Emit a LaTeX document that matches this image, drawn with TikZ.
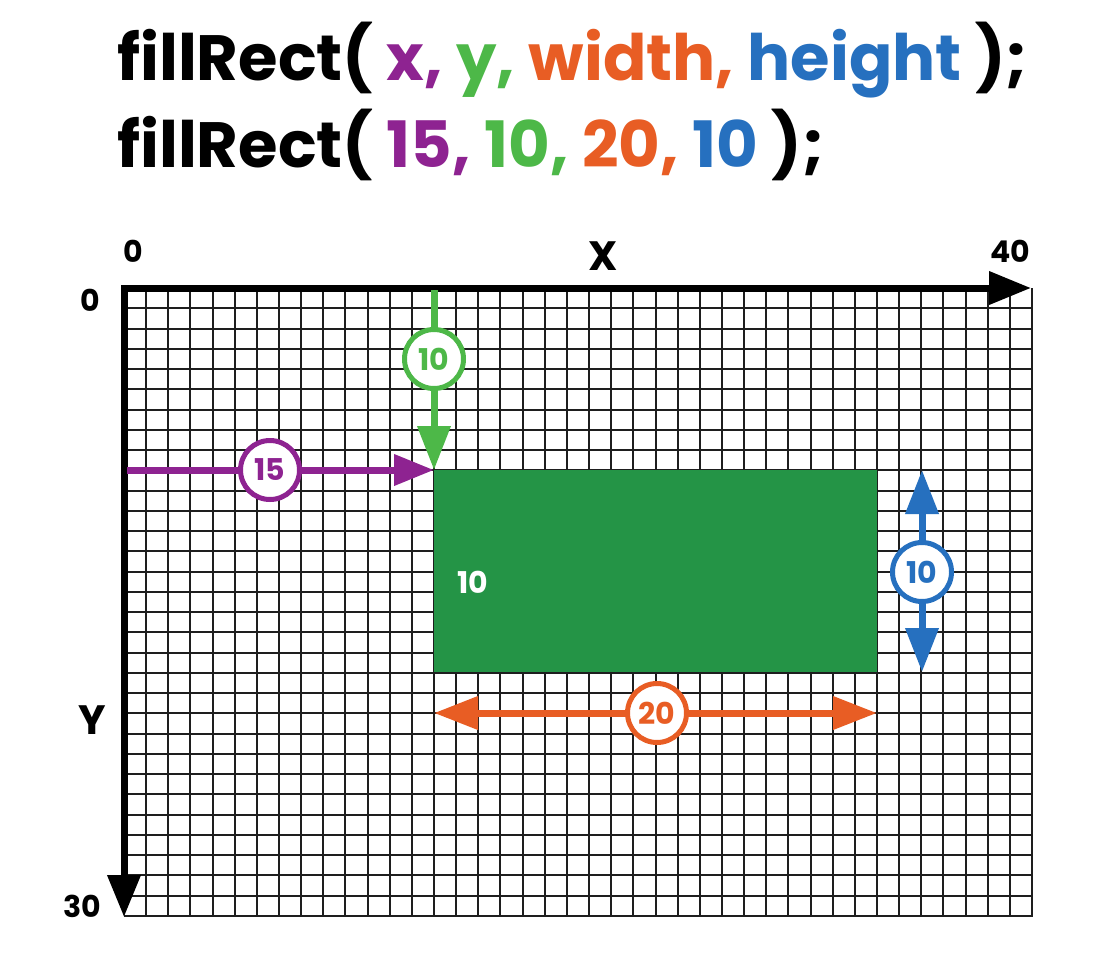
\documentclass[tikz,border=0pt]{standalone}
\usepackage{fontspec}
\setmainfont{Poppins}
\usetikzlibrary{arrows.meta}
\definecolor{cpurple}{HTML}{8E2391}
\definecolor{cgreen}{HTML}{4DB848}
\definecolor{corange}{HTML}{E85D24}
\definecolor{cblue}{HTML}{2670BF}
\definecolor{crect}{HTML}{249446}
\definecolor{cgrid}{HTML}{1E1E1E}
\tikzset{
  axtip/.tip={Triangle[length=42pt,width=32pt]},
  dimtip/.tip={Triangle[length=44pt,width=32pt]},
  ptip/.tip={Triangle[length=40pt,width=30pt]},
  gridline/.style={cgrid, line width=2pt},
  axisline/.style={black, line width=7pt, line join=miter},
  dimline/.style={line width=7pt},
  badge/.style={circle, draw=#1, fill=white, line width=5pt, minimum size=59pt, inner sep=0pt,
    text=#1, font=\bfseries\fontsize{30}{31}\selectfont},
  axlabel/.style={font=\bfseries\fontsize{30}{32}\selectfont, inner sep=0pt},
  axname/.style={font=\bfseries\fontsize{41}{44}\selectfont, inner sep=0pt},
  title/.style={font=\bfseries\fontsize{64}{70}\selectfont, inner sep=0pt, anchor=base west}
}
\begin{document}
\begin{tikzpicture}[x=1pt,y=-1pt]
\useasboundingbox[fill=white] (0,0) rectangle (1107,977);
% title
\node[title] (t1) at (117,80) {fillRect( \textcolor{cpurple}{x,} \textcolor{cgreen}{y,} \textcolor{corange}{width,} \textcolor{cblue}{height} );};
\node[title] (t2) at (117,167) {fillRect( \textcolor{cpurple}{15,} \textcolor{cgreen}{10,} \textcolor{corange}{20,} \textcolor{cblue}{10} );};
% grid
\foreach \i in {1,...,41} {
  \pgfmathsetmacro{\xx}{round(124+\i*22.146)}
  \draw[gridline] (\xx,288) -- (\xx,917);
}
\foreach \j in {1,...,31} {
  \pgfmathsetmacro{\yy}{round(288+\j*20.258)}
  \draw[gridline] (124,\yy) -- (1033,\yy);
}
% axes
\coordinate (O) at (124,288);
\coordinate (xend) at (1031,288);
\coordinate (yend) at (124,917);
\draw[axisline, {axtip}-{axtip}] (xend) -- (O) -- (yend);
\node[axlabel] (l0x) at (133,251) {0};
\node[axname] (lX) at (603,256) {X};
\node[axlabel] (l40) at (1010,251) {40};
\node[axlabel] (l0y) at (90,300) {0};
\node[axname] (lY) at (92,720) {Y};
\node[axlabel] (l30) at (82,906) {30};
% rectangle
\node[fill=crect, minimum width=443pt, minimum height=202pt, inner sep=0pt, anchor=north west] (rect) at (434,470) {};
\node[font=\bfseries\fontsize{30}{31}\selectfont, text=white, inner sep=0pt] (rlab) at (473,582) {10};
% green (y) arrow
\coordinate (gtop) at (434,290);
\node[badge=cgreen] (gc) at (434,359) {10};
\draw[cgreen, dimline] (gtop) -- (gc);
\draw[cgreen, dimline, -{dimtip}] (gc) -- (rect.north west);
% purple (x) arrow
\coordinate (pstart) at (127,470);
\node[badge=cpurple] (pc) at (270,470) {15};
\draw[cpurple, dimline] (pstart) -- (pc);
\draw[cpurple, dimline, -{ptip}] (pc) -- (rect.north west);
% orange (width) arrow
\coordinate (oL) at (434,713);
\coordinate (oR) at (877,713);
\node[badge=corange] (oc) at (657,713) {20};
\draw[corange, dimline, -{dimtip}] (oc) -- (oL);
\draw[corange, dimline, -{dimtip}] (oc) -- (oR);
% blue (height) arrow
\coordinate (bT) at (922,470);
\coordinate (bB) at (922,672);
\node[badge=cblue] (bc) at (922,572) {10};
\draw[cblue, dimline, -{dimtip}] (bc) -- (bT);
\draw[cblue, dimline, -{dimtip}] (bc) -- (bB);
\end{tikzpicture}
\end{document}
